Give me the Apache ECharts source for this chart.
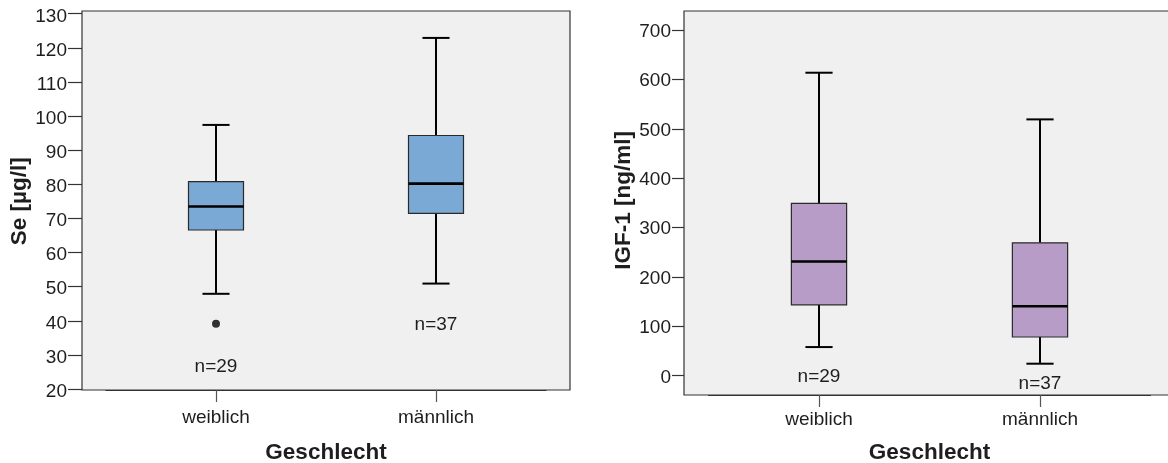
<!DOCTYPE html>
<html>
<head>
<meta charset="utf-8">
<script src="https://cdn.jsdelivr.net/npm/echarts@6/dist/echarts.min.js"></script>
<style>html,body{margin:0;padding:0;background:#fff}#c{width:1168px;height:463px}</style>
</head>
<body>
<div id="c"></div>
<script>
// ---- data ----
const categories = ['weiblich', 'männlich'];
// Se [µg/l]
const seMin    = [47.9, 50.9];
const seQ1     = [66.6, 71.5];
const seMedian = [73.5, 80.2];
const seQ3     = [80.8, 94.3];
const seMax    = [97.4, 122.9];
const seOutliers = [[0, 39.1]];
const seN = [29, 37];
const seNLabelAt = [26.5, 38.8];
const seTicks = { min: 20, max: 130, interval: 10 };
// IGF-1 [ng/ml]
const igfMin    = [58, 24.3];
const igfQ1     = [143.5, 78.4];
const igfMedian = [231.2, 140.5];
const igfQ3     = [349, 269];
const igfMax    = [613.5, 519];
const igfN = [29, 37];
const igfNLabelAt = [-2, -15.5];
const igfTicks = { min: 0, max: 700, interval: 100 };

const FONT = '"Liberation Sans", Arial, sans-serif';
const TXT = '#1e1e1e';

function buildRows(mn, q1, md, q3, mx, n, nAt) {
  return categories.map((c, i) => [i, mn[i], q1[i], md[i], q3[i], mx[i], nAt[i], n[i]]);
}

function makeRender(fill) {
  return function (params, api) {
    const x = api.value(0);
    const lo = api.coord([x, api.value(1)]);
    const q1 = api.coord([x, api.value(2)]);
    const md = api.coord([x, api.value(3)]);
    const q3 = api.coord([x, api.value(4)]);
    const hi = api.coord([x, api.value(5)]);
    const nl = api.coord([x, api.value(6)]);
    const band = api.size([1, 0])[0];
    const bw = band * 0.25, cw = band * 0.123;
    const cx = Math.round(lo[0]);
    const lineStyle = { stroke: '#000', lineWidth: 2 };
    return {
      type: 'group',
      children: [
        { type: 'line', shape: { x1: cx, y1: hi[1], x2: cx, y2: q3[1] }, style: lineStyle },
        { type: 'line', shape: { x1: cx, y1: q1[1], x2: cx, y2: lo[1] }, style: lineStyle },
        { type: 'line', shape: { x1: cx - cw / 2, y1: hi[1], x2: cx + cw / 2, y2: hi[1] }, style: lineStyle },
        { type: 'line', shape: { x1: cx - cw / 2, y1: lo[1], x2: cx + cw / 2, y2: lo[1] }, style: lineStyle },
        { type: 'rect', shape: { x: cx - bw / 2, y: q3[1], width: bw, height: q1[1] - q3[1] },
          style: { fill: fill, stroke: '#2a2a2a', lineWidth: 1.2 } },
        { type: 'line', shape: { x1: cx - bw / 2, y1: md[1], x2: cx + bw / 2, y2: md[1] },
          style: { stroke: '#000', lineWidth: 2.6 } },
        { type: 'text', x: cx, y: nl[1],
          style: { text: 'n=' + api.value(7), fill: TXT, fontSize: 19, fontFamily: FONT,
                   align: 'center', verticalAlign: 'middle', textAlign: 'center', textVerticalAlign: 'middle' } }
      ]
    };
  };
}

function yAxisFor(gridIndex, ticks, name, offset, tickLen, nameGap, namePad, labelShift) {
  return {
    gridIndex: gridIndex, type: 'value', min: ticks.min, max: ticks.max, interval: ticks.interval,
    offset: offset,
    axisLine: { show: false, onZero: false },
    axisTick: { show: true, inside: false, length: tickLen, lineStyle: { color: '#333', width: 1.2 } },
    axisLabel: { fontSize: 19, fontFamily: FONT, color: TXT, margin: tickLen + 1,
                 verticalAlign: 'top', lineHeight: labelShift * 2 },
    splitLine: { show: false },
    name: name, nameLocation: 'middle', nameGap: nameGap,
    nameTextStyle: { fontSize: 22.5, fontWeight: 'bold', fontFamily: FONT, color: TXT, padding: namePad }
  };
}
function xAxisFor(gridIndex, offset, margin, nameGap) {
  return {
    gridIndex: gridIndex, type: 'category', data: categories, offset: offset,
    axisLine: { show: true, onZero: false, lineStyle: { color: '#333', width: 1.2 } },
    axisTick: { show: true, inside: false, alignWithLabel: true, length: 12, lineStyle: { color: '#555', width: 1.2 } },
    axisLabel: { fontSize: 19, fontFamily: FONT, color: TXT, margin: margin },
    name: 'Geschlecht', nameLocation: 'middle', nameGap: nameGap,
    nameTextStyle: { fontSize: 22.5, fontWeight: 'bold', fontFamily: FONT, color: TXT }
  };
}
const hiddenX = (g) => ({ gridIndex: g, type: 'value', show: false, min: 0, max: 1 });
const hiddenY = (g) => ({ gridIndex: g, type: 'value', show: false, min: 0, max: 1, splitLine: { show: false } });

const chart = echarts.init(document.getElementById('c'), null, { renderer: 'canvas' });
chart.setOption({
  animation: false,
  backgroundColor: '#ffffff',
  grid: [
    { left: 82, top: 11, width: 488, height: 379, show: true, backgroundColor: '#f0f0f0', borderColor: '#333', borderWidth: 1.2, outerBoundsMode: 'none', containLabel: false },
    { left: 106, top: 13.7, width: 440, height: 375.3, outerBoundsMode: 'none', containLabel: false },
    { left: 684, top: 11, width: 500, height: 384, show: true, backgroundColor: '#f0f0f0', borderColor: '#333', borderWidth: 1.2, outerBoundsMode: 'none', containLabel: false },
    { left: 708.5, top: 30, width: 442, height: 345.7, outerBoundsMode: 'none', containLabel: false }
  ],
  xAxis: [
    hiddenX(0),
    xAxisFor(1, 1, 18, 51),
    hiddenX(2),
    xAxisFor(3, 19.3, 15, 46)
  ],
  yAxis: [
    hiddenY(0),
    yAxisFor(1, seTicks, 'Se [µg/l]', 24, 14, 47, [0, 0, 0, 0], 2.6),
    hiddenY(2),
    yAxisFor(3, igfTicks, 'IGF-1 [ng/ml]', 24.5, 12, 47, [0, 0, 0, 5], 1.7)
  ],
  series: [
    { type: 'custom', xAxisIndex: 1, yAxisIndex: 1, renderItem: makeRender('#7BA9D6'),
      data: buildRows(seMin, seQ1, seMedian, seQ3, seMax, seN, seNLabelAt), clip: false },
    { type: 'scatter', xAxisIndex: 1, yAxisIndex: 1, data: seOutliers, symbol: 'circle', symbolSize: 8,
      itemStyle: { color: '#000' } },
    { type: 'custom', xAxisIndex: 3, yAxisIndex: 3, renderItem: makeRender('#B89CC8'),
      data: buildRows(igfMin, igfQ1, igfMedian, igfQ3, igfMax, igfN, igfNLabelAt), clip: false }
  ]
});
</script>
</body>
</html>
